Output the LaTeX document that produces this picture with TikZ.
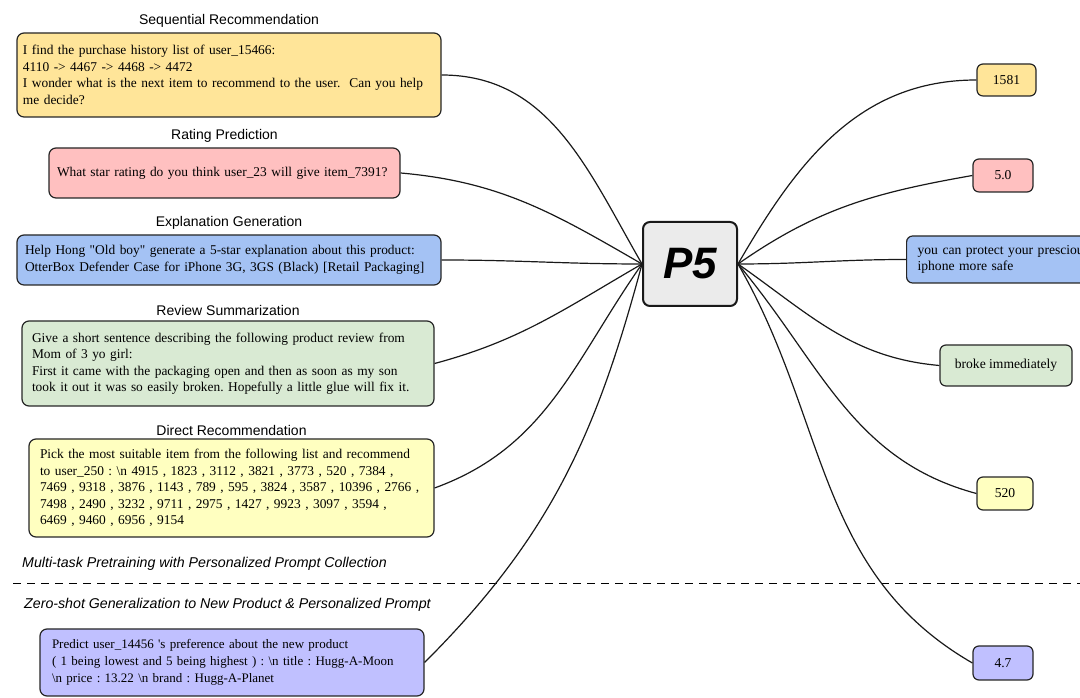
\documentclass[tikz,border=0pt]{standalone}
\usepackage{fontspec}
\setmainfont{Liberation Serif}
\setsansfont{Liberation Sans}
\usepackage{xcolor}
\usetikzlibrary{positioning}

\definecolor{seqfill}{HTML}{FFE599}
\definecolor{ratefill}{HTML}{FFC0C0}
\definecolor{explfill}{HTML}{A4C2F4}
\definecolor{revfill}{HTML}{D9EAD3}
\definecolor{dirfill}{HTML}{FFFFC0}
\definecolor{zerofill}{HTML}{C0C0FF}
\definecolor{corefill}{HTML}{EBEBEB}

\frenchspacing

\begin{document}
\begin{tikzpicture}[
	x=1pt, y=1pt,
	prompt/.style={
		draw=black!85,
		rounded corners=7pt,
		line width=1.2pt,
		align=left,
		inner ysep=0pt,
		font=\fontsize{13.4}{16.5}\selectfont
	},
	answer/.style={
		draw=black!85,
		rounded corners=6pt,
		line width=1.2pt,
		align=center,
		inner sep=0pt,
		font=\fontsize{13.6}{16.5}\selectfont
	},
	tasktitle/.style={
		font=\sffamily\fontsize{14}{16}\selectfont,
		inner sep=1pt
	},
	note/.style={
		font=\sffamily\itshape\fontsize{14.2}{16}\selectfont,
		inner sep=0pt,
		anchor=west
	},
	link/.style={
		draw=black!90,
		line width=1.2pt
	}
	]
	\useasboundingbox (0,0) rectangle (1080,698);
	\clip (0,0) rectangle (1080,698);

	% core model
	\node[draw=black!90, fill=corefill, rounded corners=7pt, line width=2pt,
		minimum width=94pt, minimum height=84pt,
		font=\sffamily\bfseries\itshape\fontsize{44}{44}\selectfont] (p5) at (690,434) {P5};

	% prompts
	\node[prompt, fill=seqfill, minimum width=424pt, minimum height=84pt,
		inner xsep=6pt, text width=412pt] (seq) at (229,623)
		{I find the purchase history list of user\_15466:\\
		4110 -> 4467 -> 4468 -> 4472\\
		I wonder what is the next item to recommend to the user.\ \ Can you help\\
		me decide?};
	\node[tasktitle, above=4pt of seq] (seqtitle) {Sequential Recommendation};

	\node[prompt, fill=ratefill, minimum width=351pt, minimum height=50pt,
		inner xsep=8pt, text width=335pt] (rating) at (224.5,525)
		{What star rating do you think user\_23 will give item\_7391?};
	\node[tasktitle, above=4pt of rating] (ratingtitle) {Rating Prediction};

	\node[prompt, fill=explfill, minimum width=424pt, minimum height=50pt,
		inner xsep=8pt, text width=408pt] (explain) at (229,438)
		{Help Hong \textquotedbl Old boy\textquotedbl{} generate a 5-star explanation about this product:\\
		OtterBox Defender Case for iPhone 3G, 3GS (Black) [Retail Packaging]};
	\node[tasktitle, above=4pt of explain] (explaintitle) {Explanation Generation};

	\node[prompt, fill=revfill, minimum width=412pt, minimum height=85pt,
		inner xsep=10pt, text width=392pt] (review) at (228,334.5)
		{Give a short sentence describing the following product review from\\
		Mom of 3 yo girl:\\
		First it came with the packaging open and then as soon as my son\\
		took it out it was so easily broken. Hopefully a little glue will fix it.};
	\node[tasktitle, above=4pt of review] (reviewtitle) {Review Summarization};

	\node[prompt, fill=dirfill, minimum width=405pt, minimum height=98pt,
		inner xsep=11pt, text width=383pt] (direct) at (231.5,210)
		{Pick the most suitable item from the following list and recommend\\
		to user\_250 : \textbackslash n 4915 , 1823 , 3112 , 3821 , 3773 , 520 , 7384 ,\\
		7469 , 9318 , 3876 , 1143 , 789 , 595 , 3824 , 3587 , 10396 , 2766 ,\\
		7498 , 2490 , 3232 , 9711 , 2975 , 1427 , 9923 , 3097 , 3594 ,\\
		6469 , 9460 , 6956 , 9154};
	\node[tasktitle, above=2pt of direct] (directtitle) {Direct Recommendation};

	% split between the two stages
	\node[note] (pretrain) at (22,134) {Multi-task Pretraining with Personalized Prompt Collection};
	\draw[line width=1pt, dash pattern=on 8pt off 6pt] (13,114) -- (1080,114);
	\node[note] (zeroshot) at (24,93) {Zero-shot Generalization to New Product \& Personalized Prompt};

	\node[prompt, fill=zerofill, minimum width=384pt, minimum height=67pt,
		font=\fontsize{13}{17}\selectfont,
		inner xsep=12pt, text width=360pt] (newitem) at (232,35.5)
		{Predict user\_14456 \textquotesingle s preference about the new product\\
		( 1 being lowest and 5 being highest ) : \textbackslash n title : Hugg-A-Moon\\
		\textbackslash n price : 13.22 \textbackslash n brand : Hugg-A-Planet};

	% answers
	\node[answer, fill=seqfill, minimum width=59pt, minimum height=32pt] (seqout) at (1006.5,618) {1581};
	\node[answer, fill=ratefill, minimum width=60pt, minimum height=33pt] (ratingout) at (1003,522.5) {5.0};
	\node[answer, fill=explfill, minimum height=47pt, anchor=west, align=left,
		inner xsep=11pt, text width=220pt] (explainout) at (906,438.5)
		{you can protect your prescious\\iphone more safe};
	\node[answer, fill=revfill, minimum width=132pt, minimum height=41pt] (reviewout) at (1006,332.5) {broke immediately};
	\node[answer, fill=dirfill, minimum width=56pt, minimum height=33pt] (directout) at (1005,204.5) {520};
	\node[answer, fill=zerofill, minimum width=60pt, minimum height=34pt] (newitemout) at (1003,35) {4.7};

	% prompts into the model
	\draw[link] (seq.east) to[out=0, in=120] (p5.west);
	\draw[link] (rating.east) to[out=-5, in=150] (p5.west);
	\draw[link] (explain.east) to[out=0, in=180] (p5.west);
	\draw[link] (review.east) to[out=15, in=-150] (p5.west);
	\draw[link] (direct.east) to[out=20, in=-125] (p5.west);
	\draw[link] (newitem.east) to[out=45, in=-105] (p5.west);

	% model to answers
	\draw[link] (p5.east) to[out=60, in=180] (seqout.west);
	\draw[link] (p5.east) to[out=35, in=190] (ratingout.west);
	\draw[link] (p5.east) to[out=0, in=180] (explainout.west);
	\draw[link] (p5.east) to[out=-35, in=175] (reviewout.west);
	\draw[link] (p5.east) to[out=-50, in=165] (directout.west);
	\draw[link] (p5.east) to[out=-60, in=150] (newitemout.west);
\end{tikzpicture}
\end{document}
